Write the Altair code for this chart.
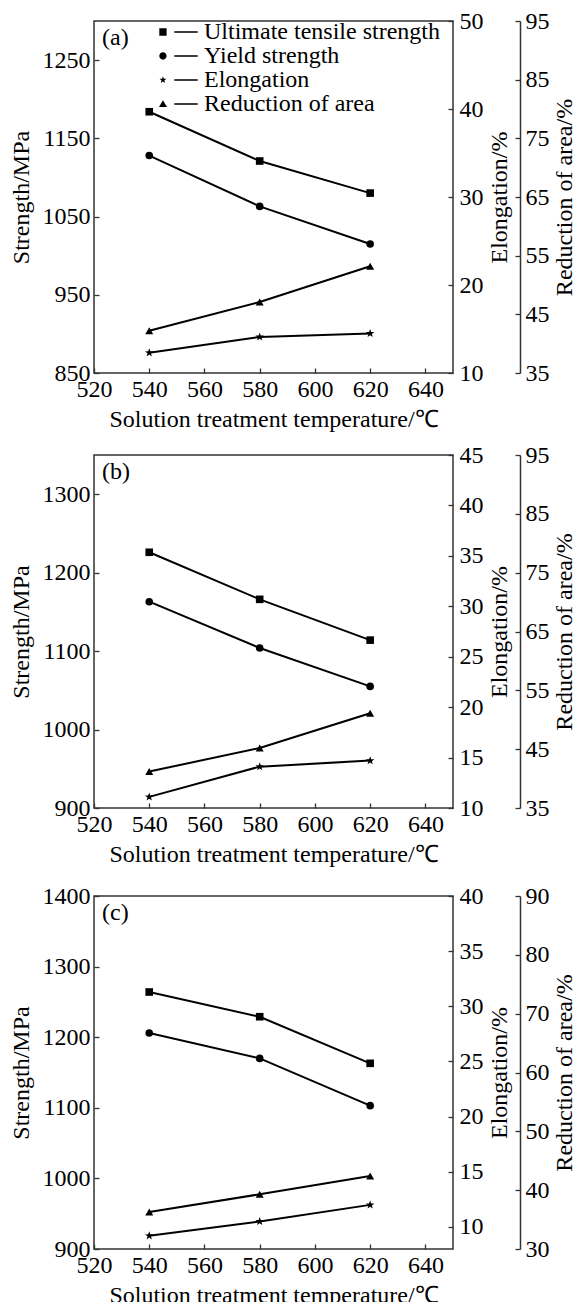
import math
import altair as alt
import pandas as pd

FONT = "Liberation Serif"
FS = 24

temperatures = [540, 580, 620]
series_names = ["Ultimate tensile strength", "Yield strength", "Elongation", "Reduction of area"]

# panel (a)
uts_a = [1184, 1121, 1080]
ys_a = [1128, 1063, 1015]
elong_a = [12.3, 14.1, 14.5]
ra_a = [42.2, 47.1, 53.2]
# panel (b)
uts_b = [1226, 1166, 1114]
ys_b = [1163, 1104, 1055]
elong_b = [11.1, 14.1, 14.7]
ra_b = [41.2, 45.2, 51.1]
# panel (c)
uts_c = [1264, 1229, 1163]
ys_c = [1206, 1170, 1103]
elong_c = [9.2, 10.5, 12.0]
ra_c = [36.3, 39.3, 42.4]

x_domain = [520, 650]
x_ticks = [520, 540, 560, 580, 600, 620, 640]

strength_domain_a = [850, 1300]
strength_ticks_a = [850, 950, 1050, 1150, 1250]
elong_domain_a = [10, 50]
elong_ticks_a = [10, 20, 30, 40, 50]
ra_domain_a = [35, 95]
ra_ticks_a = [35, 45, 55, 65, 75, 85, 95]

strength_domain_b = [900, 1350]
strength_ticks_b = [900, 1000, 1100, 1200, 1300]
elong_domain_b = [10, 45]
elong_ticks_b = [10, 15, 20, 25, 30, 35, 40, 45]
ra_domain_b = [35, 95]
ra_ticks_b = [35, 45, 55, 65, 75, 85, 95]

strength_domain_c = [900, 1400]
strength_ticks_c = [900, 1000, 1100, 1200, 1300, 1400]
elong_domain_c = [8, 40]
elong_ticks_c = [10, 15, 20, 25, 30, 35, 40]
ra_domain_c = [30, 90]
ra_ticks_c = [30, 40, 50, 60, 70, 80, 90]

W = 359
RA_OFFSET = 67


def star_path(cx, R, r):
    pts = []
    for k in range(10):
        ang = math.radians(-90 + 36 * k)
        rad = R if k % 2 == 0 else r
        pts.append((cx + rad * math.cos(ang), rad * math.sin(ang)))
    return "M" + "L".join(f"{x:.3f},{y:.3f}" for x, y in pts) + "Z"


STAR = star_path(0, 1, 0.4)
# legend glyph: marker + short line drawn as a thin filled bar
LEG_LINE = " M-0.22,-0.045L1,-0.045L1,0.045L-0.22,0.045Z"
LEG_PATHS = [
    "M-1,-0.19L-0.62,-0.19L-0.62,0.19L-1,0.19Z" + LEG_LINE,
    "M-1,0A0.19,0.19,0,1,0,-0.62,0A0.19,0.19,0,1,0,-1,0Z" + LEG_LINE,
    star_path(-0.81, 0.19, 0.08) + LEG_LINE,
    "M-0.81,-0.2L-0.6,0.16L-1.02,0.16Z" + LEG_LINE,
]

AX = dict(labelFont=FONT, titleFont=FONT, labelFontSize=FS, titleFontSize=FS,
          titleFontWeight="normal", labelColor="black", titleColor="black", grid=False)


def panel(tag, uts, ys, el, ra, sd, st, ed, et, rd, rt, H):
    rows = []
    for name, vals in zip(series_names, [uts, ys, el, ra]):
        for t, v in zip(temperatures, vals):
            rows.append({"T": t, "V": v, "S": name})
    df = pd.DataFrame(rows)
    base = alt.Chart(df).properties(width=W, height=H)
    xs = alt.Scale(domain=x_domain, nice=False, zero=False)
    x_none = alt.X("T:Q", scale=xs, axis=None)

    def ysc(d):
        return alt.Scale(domain=d, nice=False, zero=False)

    def only(names):
        return base.transform_filter(alt.FieldOneOfPredicate(field="S", oneOf=names))

    strength = only(series_names[:2])
    s_line = strength.mark_line(color="black", strokeWidth=2).encode(
        x=alt.X("T:Q", scale=xs, axis=alt.Axis(
            orient="bottom", values=x_ticks, tickSize=0, labelPadding=4, domain=False,
            labelFlush=False, labelOverlap=False, format="d",
            title="Solution treatment temperature/℃", titlePadding=6, **AX)),
        y=alt.Y("V:Q", scale=ysc(sd), axis=alt.Axis(
            orient="left", values=st, tickSize=0, labelPadding=4, domain=False,
            labelFlush=False, labelOverlap=False, format="d",
            title="Strength/MPa", titlePadding=9, **AX)),
        detail="S:N",
    )
    s_ticks = strength.mark_point(opacity=0).encode(
        x=alt.X("T:Q", scale=xs, axis=alt.Axis(
            orient="top", offset=-H, values=x_ticks, tickSize=5, labels=False,
            domain=False, title=None)),
        y=alt.Y("V:Q", scale=ysc(sd), axis=alt.Axis(
            orient="right", offset=-W, values=st, tickSize=5, labels=False,
            domain=False, title=None)),
    )
    uts_pts = only([series_names[0]]).mark_point(
        shape="square", filled=True, color="black", size=58, opacity=1).encode(
        x=x_none, y=alt.Y("V:Q", scale=ysc(sd), axis=None))
    ys_pts = only([series_names[1]]).mark_point(
        shape="circle", filled=True, color="black", size=58, opacity=1).encode(
        x=x_none, y=alt.Y("V:Q", scale=ysc(sd), axis=None))

    elong = only([series_names[2]])
    e_line = elong.mark_line(color="black", strokeWidth=2).encode(
        x=x_none,
        y=alt.Y("V:Q", scale=ysc(ed), axis=alt.Axis(
            orient="right", values=et, tickSize=0, labelPadding=6, domain=False,
            labelFlush=False, labelOverlap=False, format="d", title="Elongation/%",
            titleAngle=270, titleBaseline="top", titlePadding=4, **AX)),
    )
    e_pts = elong.mark_point(shape=STAR, filled=True, color="black", size=80, opacity=1).encode(
        x=x_none, y=alt.Y("V:Q", scale=ysc(ed), axis=None))
    e_ticks = elong.mark_point(opacity=0).encode(
        x=x_none,
        y=alt.Y("V:Q", scale=ysc(ed), axis=alt.Axis(
            orient="left", offset=-W, values=et, tickSize=5, labels=False,
            domain=False, title=None)),
    )

    red = only([series_names[3]])
    r_line = red.mark_line(color="black", strokeWidth=2).encode(
        x=x_none,
        y=alt.Y("V:Q", scale=ysc(rd), axis=alt.Axis(
            orient="right", offset=RA_OFFSET, values=rt, tickSize=0, labelPadding=5,
            domain=True, labelFlush=False, labelOverlap=False, format="d",
            title="Reduction of area/%", titleAngle=270, titleBaseline="top",
            titlePadding=3, **AX)),
    )
    r_pts = red.mark_point(shape="triangle-up", filled=True, color="black", size=64, opacity=1).encode(
        x=x_none, y=alt.Y("V:Q", scale=ysc(rd), axis=None))
    r_ticks = red.mark_point(opacity=0).encode(
        x=x_none,
        y=alt.Y("V:Q", scale=ysc(rd), axis=alt.Axis(
            orient="left", offset=-(W + RA_OFFSET), values=rt, tickSize=5,
            labels=False, domain=False, title=None)),
    )

    legend_layer = base.mark_point(opacity=0, filled=True, color="black").encode(
        x=x_none,
        shape=alt.Shape("S:N", sort=series_names,
                        scale=alt.Scale(domain=series_names, range=LEG_PATHS),
                        legend=alt.Legend(
                            orient="none", legendX=65, legendY=-1, title=None,
                            labelFont=FONT, labelFontSize=FS, labelColor="black",
                            labelLimit=0, labelOffset=6, symbolSize=1475,
                            symbolStrokeWidth=0, symbolFillColor="black",
                            symbolOpacity=1, clipHeight=24,
                            rowPadding=0, padding=0)),
    )

    tag_text = alt.Chart(pd.DataFrame({"label": [tag]})).mark_text(
        align="left", baseline="middle", font=FONT, fontSize=FS, color="black"
    ).encode(text="label:N", x=alt.value(8), y=alt.value(17))

    return alt.layer(
        s_line, uts_pts, ys_pts, s_ticks,
        e_line, e_pts, e_ticks,
        r_line, r_pts, r_ticks,
        legend_layer, tag_text,
    ).resolve_scale(y="independent")


pa = panel("(a)", uts_a, ys_a, elong_a, ra_a, strength_domain_a, strength_ticks_a,
           elong_domain_a, elong_ticks_a, ra_domain_a, ra_ticks_a, 352)
pb = panel("(b)", uts_b, ys_b, elong_b, ra_b, strength_domain_b, strength_ticks_b,
           elong_domain_b, elong_ticks_b, ra_domain_b, ra_ticks_b, 353)
pc = panel("(c)", uts_c, ys_c, elong_c, ra_c, strength_domain_c, strength_ticks_c,
           elong_domain_c, elong_ticks_c, ra_domain_c, ra_ticks_c, 353)

chart = alt.vconcat(alt.vconcat(pa, pb, spacing=10), pc, spacing=16).configure_view(
    stroke="#333", strokeWidth=1.5
).configure_axis(
    labelFont=FONT, labelFontSize=FS, titleFont=FONT, titleFontSize=FS,
    titleFontWeight="normal", labelColor="black", titleColor="black",
    tickColor="#333", tickWidth=1.3, domainColor="#333", domainWidth=1.5, grid=False,
).properties(
    padding={"left": 8, "top": 8, "right": 0, "bottom": 0},
    background="white",
)

chart.save("out.html", embed_options={"renderer": "svg", "actions": False})
